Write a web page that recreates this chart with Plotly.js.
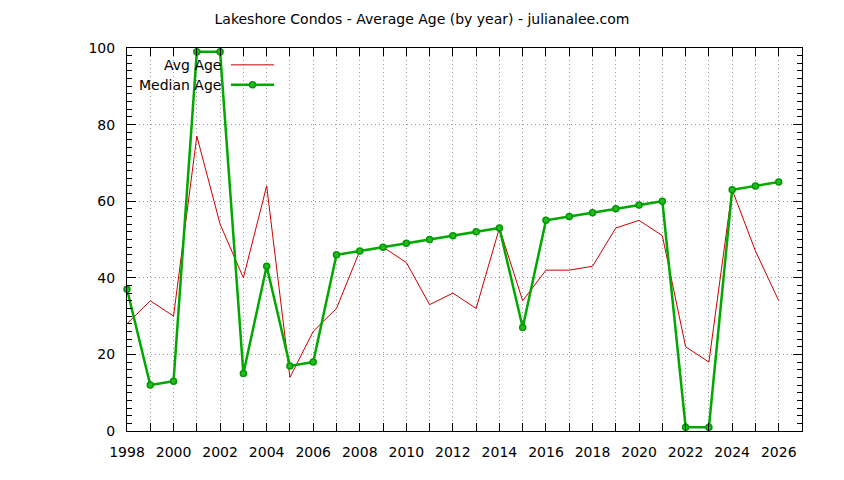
<!DOCTYPE html>
<html>
<head>
<meta charset="utf-8">
<script src="https://cdn.plot.ly/plotly-3.0.1.min.js"></script>
<style>
  html, body { margin: 0; padding: 0; background: #fff; }
  #chart { width: 844px; height: 480px; }
</style>
</head>
<body>
<div id="chart"></div>
<script>
// Years on the x axis
const years = [1998, 1999, 2000, 2001, 2002, 2003, 2004, 2005, 2006, 2007,
               2008, 2009, 2010, 2011, 2012, 2013, 2014, 2015, 2016, 2017,
               2018, 2019, 2020, 2021, 2022, 2023, 2024, 2025, 2026];

// Average age per year (red thin line)
const avgAge = [28, 34, 30, 77, 54, 40, 64, 14, 26, 32,
                47, 48, 44, 33, 36, 32, 53, 34, 42, 42,
                43, 53, 55, 51, 22, 18, 63, 47, 34];

// Median age per year (green line with points)
const medianAge = [37, 12, 13, 99, 99, 15, 43, 17, 18, 46,
                   47, 48, 49, 50, 51, 52, 53, 27, 55, 56,
                   57, 58, 59, 60, 1, 1, 63, 64, 65];

const xTickVals = [1998, 2000, 2002, 2004, 2006, 2008, 2010, 2012, 2014, 2016, 2018, 2020, 2022, 2024, 2026];
const yTickVals = [0, 20, 40, 60, 80, 100];

const font = 'DejaVu Sans, sans-serif';
const gridCol = '#9a9a9a';
const gridDash = '1px,3px';

const avgTrace = {
    x: years,
    y: avgAge,
    mode: 'lines',
    name: 'Avg Age',
    line: { color: '#cc0000', width: 1 },
    hoverinfo: 'none'
};

const medianTrace = {
    x: years,
    y: medianAge,
    mode: 'lines+markers',
    name: 'Median Age',
    line: { color: '#00a800', width: 2.5 },
    marker: { color: '#22bb22', size: 6, line: { color: '#009900', width: 1.5 } },
    hoverinfo: 'none',
    cliponaxis: false
};

// hand made legend in gnuplot style: text right aligned, sample on the right
const legendShapes = [
    { type: 'line', xref: 'paper', yref: 'paper', x0: 0.154, x1: 0.218, y0: 0.956, y1: 0.956,
      line: { color: '#cc0000', width: 1 } },
    { type: 'line', xref: 'paper', yref: 'paper', x0: 0.154, x1: 0.218, y0: 0.904, y1: 0.904,
      line: { color: '#00a800', width: 2.5 } }
];

const layout = {
    width: 844,
    height: 480,
    paper_bgcolor: '#ffffff',
    plot_bgcolor: '#ffffff',
    showlegend: false,
    margin: { l: 127, r: 42, t: 48, b: 49 },
    title: {
        text: 'Lakeshore Condos - Average Age (by year) - julianalee.com',
        font: { family: font, size: 14, color: '#000' },
        x: 0.5,
        xanchor: 'center',
        y: 0.96,
        yanchor: 'middle'
    },
    font: { family: font, size: 14, color: '#000' },
    xaxis: {
        range: [1998, 2027],
        tickvals: xTickVals,
        ticktext: xTickVals.map(String),
        ticks: 'inside',
        ticklen: 8,
        tickcolor: '#000',
        tickwidth: 1,
        showline: true,
        linecolor: '#000',
        linewidth: 1,
        mirror: 'allticks',
        showgrid: true,
        gridcolor: gridCol,
        griddash: gridDash,
        gridwidth: 1,
        zeroline: false,
        ticklabelstandoff: 8,
        tickfont: { family: font, size: 14, color: '#000' },
        minor: {
            dtick: 1,
            tick0: 1998,
            ticks: 'inside',
            ticklen: 8,
            tickcolor: '#000',
            showgrid: true,
            gridcolor: gridCol,
            griddash: gridDash,
            gridwidth: 1
        }
    },
    yaxis: {
        range: [0, 100],
        tickvals: yTickVals,
        ticks: 'inside',
        ticklen: 9,
        tickcolor: '#000',
        tickwidth: 1,
        showline: true,
        linecolor: '#000',
        linewidth: 1,
        mirror: 'allticks',
        showgrid: true,
        gridcolor: gridCol,
        griddash: gridDash,
        gridwidth: 1,
        zeroline: false,
        ticklabelstandoff: 8,
        tickfont: { family: font, size: 14, color: '#000' },
        minor: {
            dtick: 2,
            tick0: 0,
            ticks: 'inside',
            ticklen: 5,
            tickcolor: '#000',
            showgrid: false
        }
    },
    shapes: legendShapes,
    annotations: [
        { text: 'Avg Age', xref: 'paper', yref: 'paper', x: 0.142, y: 0.956,
          xanchor: 'right', yanchor: 'middle', showarrow: false,
          font: { family: font, size: 14, color: '#000' } },
        { text: 'Median Age', xref: 'paper', yref: 'paper', x: 0.142, y: 0.904,
          xanchor: 'right', yanchor: 'middle', showarrow: false,
          font: { family: font, size: 14, color: '#000' } }
    ]
};

// legend marker dot for Median Age
legendShapes.push({ type: 'circle', xref: 'paper', yref: 'paper',
    x0: 0.186 - 0.0045, x1: 0.186 + 0.0045, y0: 0.904 - 0.008, y1: 0.904 + 0.008,
    fillcolor: '#22bb22', line: { color: '#009900', width: 1.5 } });

Plotly.newPlot('chart', [avgTrace, medianTrace], layout, { displayModeBar: false, staticPlot: true });
</script>
</body>
</html>
